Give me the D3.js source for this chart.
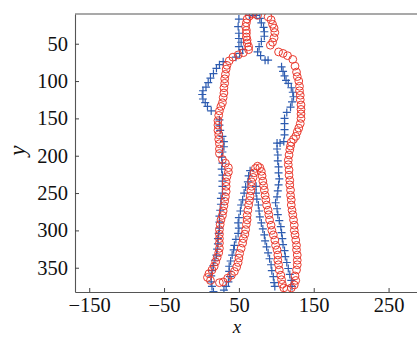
<!DOCTYPE html>
<html>
<head>
<meta charset="utf-8">
<script src="https://cdn.jsdelivr.net/npm/d3@7"></script>
<style>
  body { margin: 0; background: #fff; }
  .tick text { font-family: "Liberation Serif", "DejaVu Serif", serif; }
</style>
</head>
<body>
<div id="vis"></div>
<script>
const FRAME_WIDTH = 417;
const FRAME_HEIGHT = 337;
const MARGINS = {left: 75, right: -3, top: 14, bottom: 45};

//axis limits and ticks (data units)
const X_LIMITS = [-169, 292];
const Y_LIMITS = [10.2, 382.5];
const X_TICKS = [-150, -50, 50, 150, 250];
const Y_TICKS = [50, 100, 150, 200, 250, 300, 350];

//red circles: one outline, [x, y]
const circlePts = [
  [75,12],[69,10],[64,13],[61,17],[60,22],[59,27],[60,32],[60,36],[60,41],[61,45],[61,49],[63,54],[63,58],
  [56,62],[49,65],[42,68],[37,73],[34,79],[33,84],
  [32,91],[31,97],[31,103],[30,109],[30,116],[29,122],[28,129],[26,134],[24,140],[23,146],[22,153],[22,159],
  [22,166],[23,172],[23,178],[24,184],[24,191],[24,197],
  [28,205],[32,210],[36,216],[36,222],[34,228],
  [33,235],[33,241],[33,248],[32,255],[31,261],[30,267],[29,274],[28,280],[26,286],[25,292],[24,299],[24,305],
  [24,311],[24,317],[24,324],[23,330],[21,336],[19,342],[17,348],[14,353],[10,358],[8,363],[12,367],
  [24,370],[29,369],[35,364],[40,360],[44,355],[47,349],
  [49,343],[50,337],[51,331],[53,324],[55,317],[56,311],[58,305],[59,299],[60,292],[61,286],[61,280],[62,273],
  [63,266],[64,260],[65,254],[66,247],[67,241],[67,235],[69,229],[70,223],[72,217],[75,214],[78,216],
  [80,221],[81,227],[82,234],[83,240],[84,246],[85,253],[86,259],[87,266],[89,273],[90,279],[91,286],[93,293],
  [94,300],[96,306],[98,313],[99,320],[101,326],[102,333],[102,340],[103,346],[104,353],[106,360],[107,366],[108,372],
  [110,377],[114,379],[120,377],[124,373],[126,367],[125,361],
  [127,353],[128,346],[128,340],[128,333],[127,326],[127,320],[126,313],[125,306],[124,300],[124,293],[123,286],
  [122,279],[121,273],[120,266],[120,259],[119,253],[119,246],[118,239],[118,233],[117,226],[117,219],[116,212],
  [116,206],[117,199],[118,192],[119,187],
  [120,182],[123,178],[126,174],[128,168],[130,163],[132,157],[133,150],[133,144],[133,138],[133,132],[132,125],
  [132,119],[131,113],[131,107],[130,100],[128,94],[127,88],[125,80],
  [122,71],[115,66],[109,63],[103,61],
  [92,52],[95,48],[97,42],[98,35],[97,29],[95,24],[93,18],[89,14]
];

//blue plus markers: second outline, [x, y]
const plusPts = [
  [64,12],[68,9],
  [50,17],[49,27],[50,36],[50,43],[53,48],[50,54],[55,58],[51,63],[46,68],
  [29,74],[24,78],[20,83],[16,90],[12,96],[9,102],[6,108],[2,113],[1,118],[2,124],[5,129],[8,134],[13,140],
  [24,152],[24,159],[25,166],[28,174],[30,181],[30,188],[28,195],[27,202],[28,210],[27,218],[28,226],[28,234],
  [28,241],[28,250],[26,257],[26,265],[25,273],[24,281],[24,289],[24,297],[23,304],[22,311],[22,318],[21,325],
  [20,333],[18,340],[16,347],[14,354],[13,361],[13,369],[14,375],[16,382],
  [30,380],[33,375],[36,369],[38,362],[37,355],[37,348],[39,341],[41,333],[43,326],[44,320],[46,312],[49,304],
  [50,297],[49,290],[50,283],[52,274],[53,266],[55,259],[57,250],[59,242],[62,235],[63,227],[65,220],
  [73,241],[73,250],[74,258],[76,266],[77,274],[78,282],[80,290],[82,298],[84,306],[85,314],[87,322],[89,330],
  [91,338],[93,346],[94,354],[96,362],[97,370],[98,375],
  [121,375],[120,367],[118,359],[116,351],[114,343],[112,335],[111,327],[109,319],[108,311],[107,303],[106,295],
  [104,287],[102,279],[101,271],[99,263],[101,255],[102,247],[103,239],[104,231],[103,223],[103,215],[102,207],
  [102,199],[101,191],[101,183],[105,183],[110,181],[111,172],[111,165],[111,157],[111,150],[114,142],[119,135],
  [121,128],[123,121],[122,115],[120,109],[116,103],[113,99],[111,93],[109,87],[107,81],
  [89,72],[85,72],[79,66],[75,61],[77,54],[80,47],[84,40],[84,34],[83,28],[80,22],[78,16],[73,12]
];

const VIS_WIDTH = FRAME_WIDTH - MARGINS.left - MARGINS.right;
const VIS_HEIGHT = FRAME_HEIGHT - MARGINS.top - MARGINS.bottom;

const FRAME = d3.select("#vis")
  .append("svg")
    .attr("width", FRAME_WIDTH)
    .attr("height", FRAME_HEIGHT);

const X_SCALE = d3.scaleLinear().domain(X_LIMITS).range([0, VIS_WIDTH]);
const Y_SCALE = d3.scaleLinear().domain(Y_LIMITS).range([0, VIS_HEIGHT]); //image coords, y grows down

const PLOT = FRAME.append("g")
  .attr("transform", "translate(" + MARGINS.left + "," + MARGINS.top + ")");

PLOT.append("clipPath").attr("id", "clip")
  .append("rect").attr("width", VIS_WIDTH).attr("height", VIS_HEIGHT);

const MARKS = PLOT.append("g").attr("clip-path", "url(#clip)");

//plus markers first, circles on top
MARKS.selectAll(".plus")
  .data(plusPts)
  .enter()
  .append("path")
    .attr("class", "plus")
    .attr("d", "M-4,0H4M0,-4V4")
    .attr("transform", (d) => "translate(" + X_SCALE(d[0]) + "," + Y_SCALE(d[1]) + ")")
    .attr("stroke", "#2e5cb0")
    .attr("stroke-width", 1.2)
    .attr("fill", "none");

MARKS.selectAll(".ring")
  .data(circlePts)
  .enter()
  .append("circle")
    .attr("class", "ring")
    .attr("cx", (d) => X_SCALE(d[0]))
    .attr("cy", (d) => Y_SCALE(d[1]))
    .attr("r", 3.9)
    .attr("stroke", "#ea3a2e")
    .attr("stroke-width", 1)
    .attr("fill", "none");

//axes, ticks pointing inward
const fmt = (d) => d < 0 ? "\u2212" + Math.abs(d) : "" + d;

const xAxis = PLOT.append("g")
  .attr("transform", "translate(0," + VIS_HEIGHT + ")")
  .call(d3.axisBottom(X_SCALE).tickValues(X_TICKS).tickFormat(fmt).tickSizeInner(-4).tickSizeOuter(0).tickPadding(6));

const yAxis = PLOT.append("g")
  .call(d3.axisLeft(Y_SCALE).tickValues(Y_TICKS).tickFormat(fmt).tickSizeInner(-4).tickSizeOuter(0).tickPadding(7));

[xAxis, yAxis].forEach((ax) => {
  ax.select(".domain").attr("stroke", "#555").attr("stroke-width", 1.1);
  ax.selectAll(".tick line").attr("stroke", "#444").attr("stroke-width", 1);
  ax.selectAll(".tick text").attr("font-size", 20.5).attr("fill", "#111")
    .attr("font-family", "'Liberation Serif', serif");
});
xAxis.selectAll(".tick text").attr("dy", "0.66em");

//top spine
PLOT.append("line")
  .attr("x1", 0).attr("x2", VIS_WIDTH)
  .attr("y1", 0).attr("y2", 0)
  .attr("stroke", "#555").attr("stroke-width", 1.1);

//axis titles
FRAME.append("text")
  .attr("x", MARGINS.left + X_SCALE(50) - 2)
  .attr("y", 332.5)
  .attr("text-anchor", "middle")
  .attr("font-family", "'Liberation Serif', serif")
  .attr("font-style", "italic")
  .attr("font-size", 19)
  .attr("fill", "#111")
  .text("x");

FRAME.append("text")
  .attr("transform", "translate(25," + (MARGINS.top + Y_SCALE(200) - 5) + ") rotate(-90)")
  .attr("text-anchor", "middle")
  .attr("font-family", "'Liberation Serif', serif")
  .attr("font-style", "italic")
  .attr("font-size", 23)
  .attr("fill", "#111")
  .text("y");
</script>
</body>
</html>
